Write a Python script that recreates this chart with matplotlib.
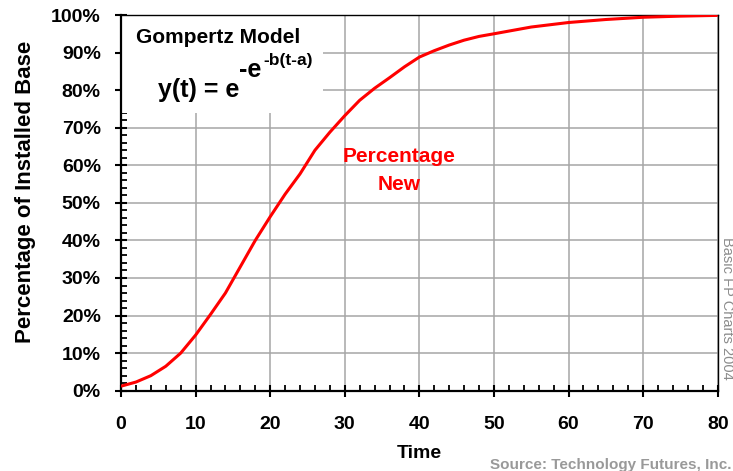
import numpy as np
import matplotlib
matplotlib.use("Agg")
import matplotlib.pyplot as plt
from matplotlib.patches import Rectangle
from matplotlib.ticker import MultipleLocator

# Gompertz curve (time, share of installed base in %)
time = [0, 2, 4, 6, 8, 10, 12, 14, 16, 18, 20, 22, 24, 26, 28, 30, 32, 34, 36,
        38, 40, 42, 44, 46, 48, 50, 55, 60, 65, 70, 75, 80]
pct_new = [1.2, 2.3, 4.0, 6.5, 10.0, 14.8, 20.3, 26.0, 33.0, 40.0, 46.3, 52.3,
           57.7, 64.0, 68.8, 73.2, 77.3, 80.5, 83.3, 86.2, 88.8, 90.5, 92.0,
           93.3, 94.3, 95.0, 96.8, 98.0, 98.8, 99.4, 99.7, 99.9]

x_ticks = [0, 10, 20, 30, 40, 50, 60, 70, 80]
y_ticks = [0, 10, 20, 30, 40, 50, 60, 70, 80, 90, 100]
y_labels = [f"{v}%" for v in y_ticks]

W, H = 733, 471
plt.rcParams['font.family'] = ['Liberation Sans', 'DejaVu Sans']

fig = plt.figure(figsize=(W / 100, H / 100), dpi=100)
ax = fig.add_axes([121 / W, 1 - 390.7 / H, (717.7 - 121) / W, (390.7 - 15) / H])

def px(x, y):
    # figure pixel (from top-left) -> figure fraction
    return x / W, 1 - y / H

ax.plot(time, pct_new, color='#ff0000', lw=2.2, zorder=3, solid_capstyle='butt')

ax.set_xlim(0, 80)
ax.set_ylim(0, 100)
ax.set_xticks(x_ticks)
ax.set_xticklabels([str(v) for v in x_ticks])
ax.set_yticks(y_ticks)
ax.set_yticklabels(y_labels)
ax.xaxis.set_minor_locator(MultipleLocator(2))
ax.yaxis.set_minor_locator(MultipleLocator(2))

ax.set_axisbelow(True)
ax.grid(True, which='major', color='#a6a6a6', lw=1.1)

ax.tick_params(which='major', direction='inout', length=9, width=1.5,
               labelsize=14, color='black')
ax.tick_params(axis='x', which='major', pad=14)
ax.tick_params(axis='y', which='major', pad=10)
ax.tick_params(which='minor', direction='in', length=4.5, width=1.3)
for lab in ax.get_xticklabels() + ax.get_yticklabels():
    lab.set_fontweight('bold')

for side in ['left', 'bottom']:
    ax.spines[side].set_linewidth(1.6)
for side in ['top', 'right']:
    ax.spines[side].set_linewidth(1.0)

# white box behind the model formula
ax.add_patch(Rectangle((0, 0.739), 0.339, 0.261, transform=ax.transAxes,
                       facecolor='white', edgecolor='none', zorder=1))

ax.set_xlabel('Time', fontsize=14, fontweight='bold')
ax.xaxis.set_label_coords(0.5, -0.145)
ax.set_ylabel('Percentage of Installed Base', fontsize=16, fontweight='bold')
ax.yaxis.set_label_coords(-0.142, 0.53)

fig.text(*px(136, 43.3), 'Gompertz Model', fontsize=15, fontweight='bold',
         va='baseline', ha='left')
fig.text(*px(158, 97), 'y(t) = e', fontsize=18, fontweight='bold',
         va='baseline', ha='left')
fig.text(*px(239, 77), '-e', fontsize=18, fontweight='bold',
         va='baseline', ha='left')
fig.text(*px(263, 65), '-b(t-a)', fontsize=12.5, fontweight='bold',
         va='baseline', ha='left')

fig.text(*px(399, 162), 'Percentage', fontsize=15, fontweight='bold',
         color='#ff0000', va='baseline', ha='center')
fig.text(*px(399, 190), 'New', fontsize=15, fontweight='bold',
         color='#ff0000', va='baseline', ha='center')

fig.text(*px(727, 308), 'Basic FP Charts 2004', fontsize=10.5, color='#8c8c8c',
         rotation=270, va='center', ha='center')
fig.text(*px(732, 469), 'Source: Technology Futures, Inc.', fontsize=11,
         fontweight='bold', color='#999999', va='baseline', ha='right')

fig.savefig('out.png', dpi=100)
